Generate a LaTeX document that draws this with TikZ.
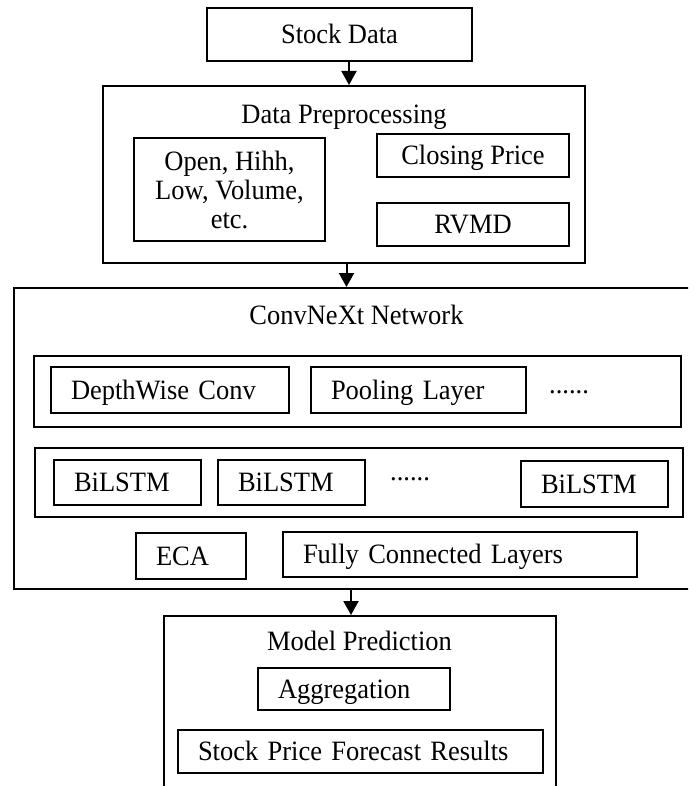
\documentclass[tikz,border=0pt]{standalone}
\usepackage{fontspec}
\setmainfont{Liberation Serif}[FakeStretch=0.946]
\usetikzlibrary{arrows.meta,positioning}

\begin{document}
\begin{tikzpicture}[
  x=1pt, y=-1pt,
  font=\fontsize{28}{29}\selectfont,
  frame/.style={draw=black,line width=2pt,inner sep=0pt},
  one/.style={text height=18.5pt,text depth=0pt},
  blk/.style={frame,align=center},
  lblk/.style={frame,one,inner xsep=20pt,align=left,minimum height=46pt},
  ttl/.style={one,inner sep=0pt},
  dotsrow/.style={inner sep=0pt,anchor=base west},
  arr/.style={line width=2pt,-{Triangle[length=14pt,width=15pt]}}
]
\useasboundingbox (0,0) rectangle (688,786);
\clip (0,0) rectangle (688,786);

% ---- input ----
\node[blk,one,minimum width=265pt,minimum height=53pt] (stock) at (339.5,34.5) {Stock Data};

% ---- preprocessing ----
\node[frame,minimum width=482pt,minimum height=177pt] (prep) at (344,174.5) {};
\node[ttl] (prepT) at (344,114) {Data Preprocessing};
\node[blk,minimum width=191pt,minimum height=103pt] (open) at (229.5,189.5)
  {Open, Hihh,\\Low, Volume,\\etc.};
\node[blk,one,minimum width=192pt,minimum height=43pt] (close) at (473,155.5) {Closing Price};
\node[blk,one,minimum width=192pt,minimum height=43pt] (rvmd) at (473,224.5) {RVMD};

% ---- ConvNeXt network ----
\node[frame,minimum width=688pt,minimum height=301pt] (conv) at (358,438.5) {};
\node[ttl] (convT) at (356.5,315) {ConvNeXt Network};

\node[frame,minimum width=647pt,minimum height=71pt] (row1) at (357.5,391.5) {};
\node[lblk,text width=198pt] (depth) at (170,390) {DepthWise Conv};
\node[lblk,text width=175pt] (pool) at (418.5,390) {Pooling Layer};
\node[dotsrow] (dots1) at (549,393) {......};

\node[frame,minimum width=648pt,minimum height=69pt] (row2) at (359,482.5) {};
\node[lblk,text width=107pt,minimum height=45pt] (bil1) at (127.5,482.5) {BiLSTM};
\node[lblk,text width=107pt,minimum height=45pt] (bil2) at (291.5,482.5) {BiLSTM};
\node[dotsrow] (dots2) at (390,480) {......};
\node[lblk,text width=107pt] (bil3) at (594.5,484) {BiLSTM};

\node[lblk,text width=70pt] (eca) at (191,556) {ECA};
\node[lblk,text width=314pt,minimum height=45pt] (fc) at (460,554.5) {Fully Connected Layers};

% ---- prediction ----
\node[frame,minimum width=392pt,minimum height=190pt] (pred) at (360,711) {};
\node[ttl] (predT) at (359.5,641.5) {Model Prediction};
\node[lblk,text width=152pt,minimum height=42pt] (agg) at (354,689) {Aggregation};
\node[lblk,text width=325pt,minimum height=43pt] (res) at (360.5,751.5) {Stock Price Forecast Results};

% ---- arrows ----
\coordinate (s1) at (349,0);
\coordinate (s2) at (346.5,0);
\coordinate (s3) at (351,0);
\draw[arr] (stock.south -| s1) -- (prep.north -| s1);
\draw[arr] (prep.south -| s2) -- (conv.north -| s2);
\draw[arr] (conv.south -| s3) -- (pred.north -| s3);

\end{tikzpicture}
\end{document}
